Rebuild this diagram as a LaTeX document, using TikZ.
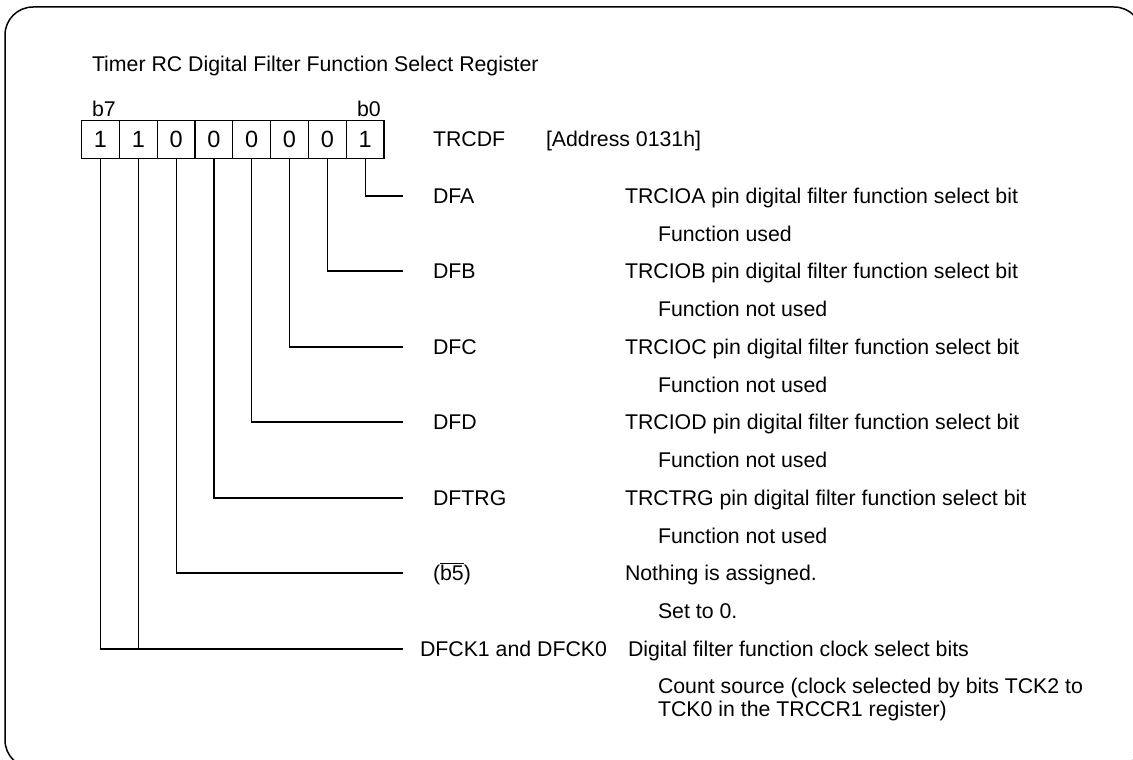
\documentclass[tikz,border=0pt]{standalone}
\usepackage{fontspec}
\setmainfont{Liberation Sans}
\usetikzlibrary{calc}
\begin{document}
\begin{tikzpicture}[x=1pt,y=-1pt,
  font=\fontsize{21.3}{25}\selectfont,
  txt/.style={anchor=base west, inner sep=0pt, outer sep=0pt},
  cell/.style={draw, line width=1.2pt, minimum width=37.8pt, minimum height=38pt, inner sep=0pt, anchor=north west},
  digit/.style={anchor=base, inner sep=0pt, font=\fontsize{23.5}{27}\selectfont},
  lead/.style={line width=1.2pt}]
\useasboundingbox (0,0) rectangle (1133,760);
\begin{scope}
\clip (0,0) rectangle (1133,760);
\draw[line width=1.5pt, rounded corners=28pt] (5,7) rectangle (1142,768);
\end{scope}

% title
\node[txt] (title) at (92,71) {Timer RC Digital Filter Function Select Register};

% bit register
\node[txt] (b7) at (92,117) {b7};
\node[txt] (b0) at (357,117) {b0};
\foreach \i/\v in {7/1,6/1,5/0,4/0,3/0,2/0,1/0,0/1} {
  \node[cell] (c\i) at ({81+(7-\i)*37.8},120) {};
  \node[digit] (d\i) at ($(c\i.north)+(0,27.5)$) {\v};
}
\node[txt] (reg) at (433,146) {TRCDF};
\node[txt] (addr) at (546,146) {[Address 0131h]};

% bit names
\node[txt] (nA) at (433,203) {DFA};
\node[txt] (nB) at (433,278) {DFB};
\node[txt] (nC) at (433,354) {DFC};
\node[txt] (nD) at (433,429) {DFD};
\node[txt] (nT) at (433,505) {DFTRG};
\node[txt] (n5) at (433,580) {($\overline{\mbox{b5}}$)};
\node[txt] (nK) at (420,656) {DFCK1 and DFCK0};

% anchors where the leader lines end
\foreach \n/\y in {A/196,B/271,C/347,D/422,T/498,5/573,K/649}
  \coordinate (e\n) at (403,\y);

% leader lines
\draw[lead] (c0.south) |- (eA);
\draw[lead] (c1.south) |- (eB);
\draw[lead] (c2.south) |- (eC);
\draw[lead] (c3.south) |- (eD);
\draw[lead] (c4.south) |- (eT);
\draw[lead] (c5.south) |- (e5);
\draw[lead] (c7.south) |- (eK);
\draw[lead] (c6.south) -- (c6.south |- eK);

% descriptions
\node[txt] (tA) at (625,203) {TRCIOA pin digital filter function select bit};
\node[txt] (sA) at (658,241) {Function used};
\node[txt] (tB) at (625,278) {TRCIOB pin digital filter function select bit};
\node[txt] (sB) at (658,316) {Function not used};
\node[txt] (tC) at (625,354) {TRCIOC pin digital filter function select bit};
\node[txt] (sC) at (658,392) {Function not used};
\node[txt] (tD) at (625,429) {TRCIOD pin digital filter function select bit};
\node[txt] (sD) at (658,467) {Function not used};
\node[txt] (tT) at (625,505) {TRCTRG pin digital filter function select bit};
\node[txt] (sT) at (658,543) {Function not used};
\node[txt] (t5) at (625,580) {Nothing is assigned.};
\node[txt] (s5) at (658,618) {Set to 0.};
\node[txt] (tK) at (628,656) {Digital filter function clock select bits};
\node[txt] (sK) at (658,693) {Count source (clock selected by bits TCK2 to};
\node[txt] (sK2) at (658,716) {TCK0 in the TRCCR1 register)};
\end{tikzpicture}
\end{document}
